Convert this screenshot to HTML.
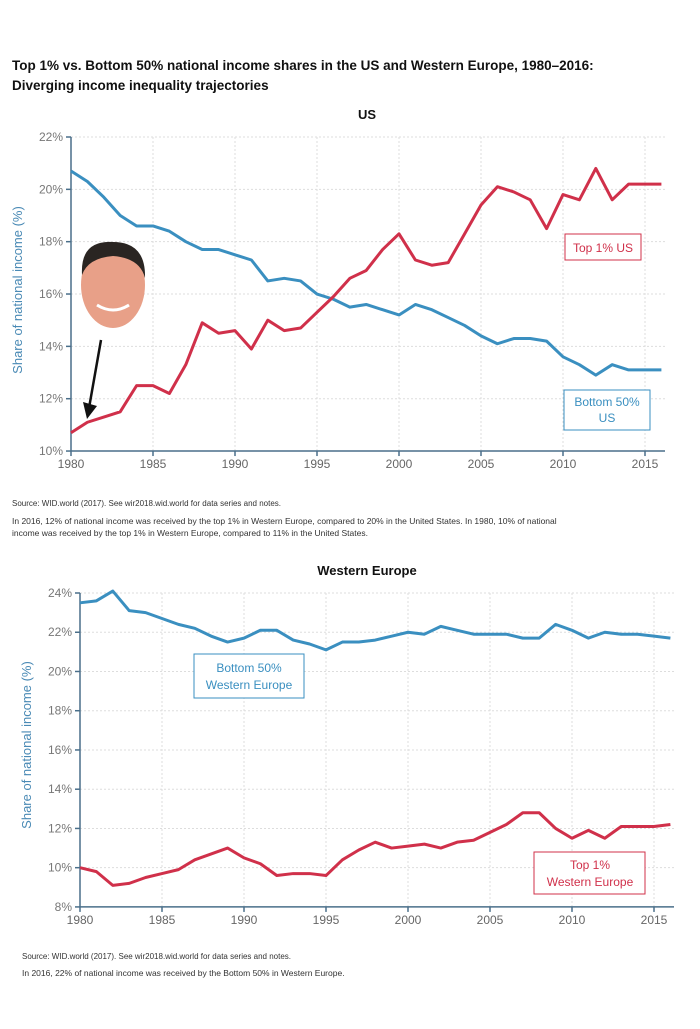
<!DOCTYPE html>
<html><head><meta charset="utf-8"><style>
body{margin:0;background:#fff;width:700px;height:1024px;overflow:hidden;font-family:"Liberation Sans",sans-serif}
svg text{font-family:"Liberation Sans",sans-serif}
</style></head><body>
<svg id="s" width="700" height="1024" xmlns="http://www.w3.org/2000/svg">
<text x="12" y="70" font-size="13.5" font-weight="bold" fill="#111">Top 1% vs. Bottom 50% national income shares in the US and Western Europe, 1980–2016:</text>
<text x="12" y="90" font-size="13.5" font-weight="bold" fill="#111">Diverging income inequality trajectories</text>
<text x="367" y="119" font-size="13" font-weight="bold" fill="#111" text-anchor="middle">US</text>
<text x="367" y="575" font-size="13" font-weight="bold" fill="#111" text-anchor="middle">Western Europe</text>
<text x="12" y="506" font-size="8" fill="#333">Source:  WID.world (2017). See wir2018.wid.world for data series and notes.</text>
<text x="12" y="524" font-size="8.5" fill="#333">In 2016, 12% of national income was received by the top 1% in Western Europe, compared to 20% in the United States. In 1980, 10% of national</text>
<text x="12" y="536" font-size="8.5" fill="#333">income was received by the top 1% in Western Europe, compared to 11% in the United States.</text>
<text x="22" y="959" font-size="8" fill="#333">Source:  WID.world (2017). See wir2018.wid.world for data series and notes.</text>
<text x="22" y="976" font-size="8.5" fill="#333">In 2016, 22% of national income was received by the Bottom 50% in Western Europe.</text>
<g id="g"></g>
<!-- face -->
<ellipse cx="113" cy="285" rx="32" ry="43" fill="#e8a088"/>
<path d="M82 275 Q80 240 113 242 Q146 242 145 278 Q140 258 113 256 Q88 258 82 275Z" fill="#2a2522"/>
<path d="M97 305 Q113 315 129 305" stroke="#fff" stroke-width="3" fill="none"/>
<line x1="101" y1="340" x2="89" y2="408" stroke="#111" stroke-width="2.5"/>
<polygon points="83,402 97,406 87,419" fill="#111"/>
<rect x="565" y="234" width="76" height="26" fill="#fff" stroke="#d0304a" stroke-width="1"/>
<text x="603" y="252" font-size="12" fill="#d0304a" text-anchor="middle">Top 1% US</text>
<rect x="564" y="390" width="86" height="40" fill="#fff" stroke="#3a8fc0" stroke-width="1"/>
<text x="607" y="406" font-size="12" fill="#3a8fc0" text-anchor="middle">Bottom 50%</text>
<text x="607" y="422" font-size="12" fill="#3a8fc0" text-anchor="middle">US</text>
<rect x="194" y="654" width="110" height="44" fill="#fff" stroke="#3a8fc0" stroke-width="1"/>
<text x="249" y="672" font-size="12" fill="#3a8fc0" text-anchor="middle">Bottom 50%</text>
<text x="249" y="689" font-size="12" fill="#3a8fc0" text-anchor="middle">Western Europe</text>
<rect x="534" y="852" width="111" height="42" fill="#fff" stroke="#d0304a" stroke-width="1"/>
<text x="590" y="869" font-size="12" fill="#d0304a" text-anchor="middle">Top 1%</text>
<text x="590" y="886" font-size="12" fill="#d0304a" text-anchor="middle">Western Europe</text>
</svg>
<script>
var ns="http://www.w3.org/2000/svg",g=document.getElementById('g');
function el(t,a,txt){var e=document.createElementNS(ns,t);for(var k in a)e.setAttribute(k,a[k]);if(txt!=null)e.textContent=txt;g.appendChild(e);return e;}
function chart(x0,yTop,yMin,yMax,ppu,xEnd,series,ytitleY){
 var yb=yTop+(yMax-yMin)*ppu;
 for(var v=yMin;v<=yMax;v+=2){var y=yb-(v-yMin)*ppu;
  if(v>yMin)el('line',{x1:x0,x2:xEnd,y1:y,y2:y,stroke:'#ddd','stroke-dasharray':'2,2'});
  el('line',{x1:x0-5,x2:x0,y1:y,y2:y,stroke:'#4a6f8a','stroke-width':1.5});
  el('text',{x:x0-8,y:y+4,'font-size':12,fill:'#777','text-anchor':'end'},v+'%');}
 for(var yr=1980;yr<=2015;yr+=5){var x=x0+(yr-1980)*16.4;
  if(yr>1980)el('line',{x1:x,x2:x,y1:yTop,y2:yb,stroke:'#ddd','stroke-dasharray':'2,2'});
  el('line',{x1:x,x2:x,y1:yb,y2:yb+5,stroke:'#4a6f8a','stroke-width':1.5});
  el('text',{x:x,y:yb+17,'font-size':12,fill:'#666','text-anchor':'middle'},yr);}
 el('line',{x1:x0,x2:x0,y1:yTop,y2:yb,stroke:'#4a6f8a','stroke-width':1.5});
 el('line',{x1:x0,x2:xEnd,y1:yb,y2:yb,stroke:'#4a6f8a','stroke-width':1.5});
 el('text',{x:0,y:0,'font-size':13,fill:'#4a8ab5','text-anchor':'middle',transform:'translate('+(x0-49)+','+ytitleY+') rotate(-90)'},'Share of national income (%)');
 series.forEach(function(s){var p=s.d.map(function(v,i){return (x0+i*16.4)+','+(yb-(v-yMin)*ppu)}).join(' ');
  el('polyline',{points:p,fill:'none',stroke:s.c,'stroke-width':3,'stroke-linejoin':'round'});});
}
var B='#3a8fc0',R='#d0304a';
chart(71,137,10,22,26.17,665,[
{c:B,d:[20.7,20.3,19.7,19.0,18.6,18.6,18.4,18.0,17.7,17.7,17.5,17.3,16.5,16.6,16.5,16.0,15.8,15.5,15.6,15.4,15.2,15.6,15.4,15.1,14.8,14.4,14.1,14.3,14.3,14.2,13.6,13.3,12.9,13.3,13.1,13.1,13.1]},
{c:R,d:[10.7,11.1,11.3,11.5,12.5,12.5,12.2,13.3,14.9,14.5,14.6,13.9,15.0,14.6,14.7,15.3,15.9,16.6,16.9,17.7,18.3,17.3,17.1,17.2,18.3,19.4,20.1,19.9,19.6,18.5,19.8,19.6,20.8,19.6,20.2,20.2,20.2]}],290);
chart(80,593,8,24,19.62,674,[
{c:B,d:[23.5,23.6,24.1,23.1,23.0,22.7,22.4,22.2,21.8,21.5,21.7,22.1,22.1,21.6,21.4,21.1,21.5,21.5,21.6,21.8,22.0,21.9,22.3,22.1,21.9,21.9,21.9,21.7,21.7,22.4,22.1,21.7,22.0,21.9,21.9,21.8,21.7]},
{c:R,d:[10.0,9.8,9.1,9.2,9.5,9.7,9.9,10.4,10.7,11.0,10.5,10.2,9.6,9.7,9.7,9.6,10.4,10.9,11.3,11.0,11.1,11.2,11.0,11.3,11.4,11.8,12.2,12.8,12.8,12.0,11.5,11.9,11.5,12.1,12.1,12.1,12.2]}],745);
</script>
</body></html>
